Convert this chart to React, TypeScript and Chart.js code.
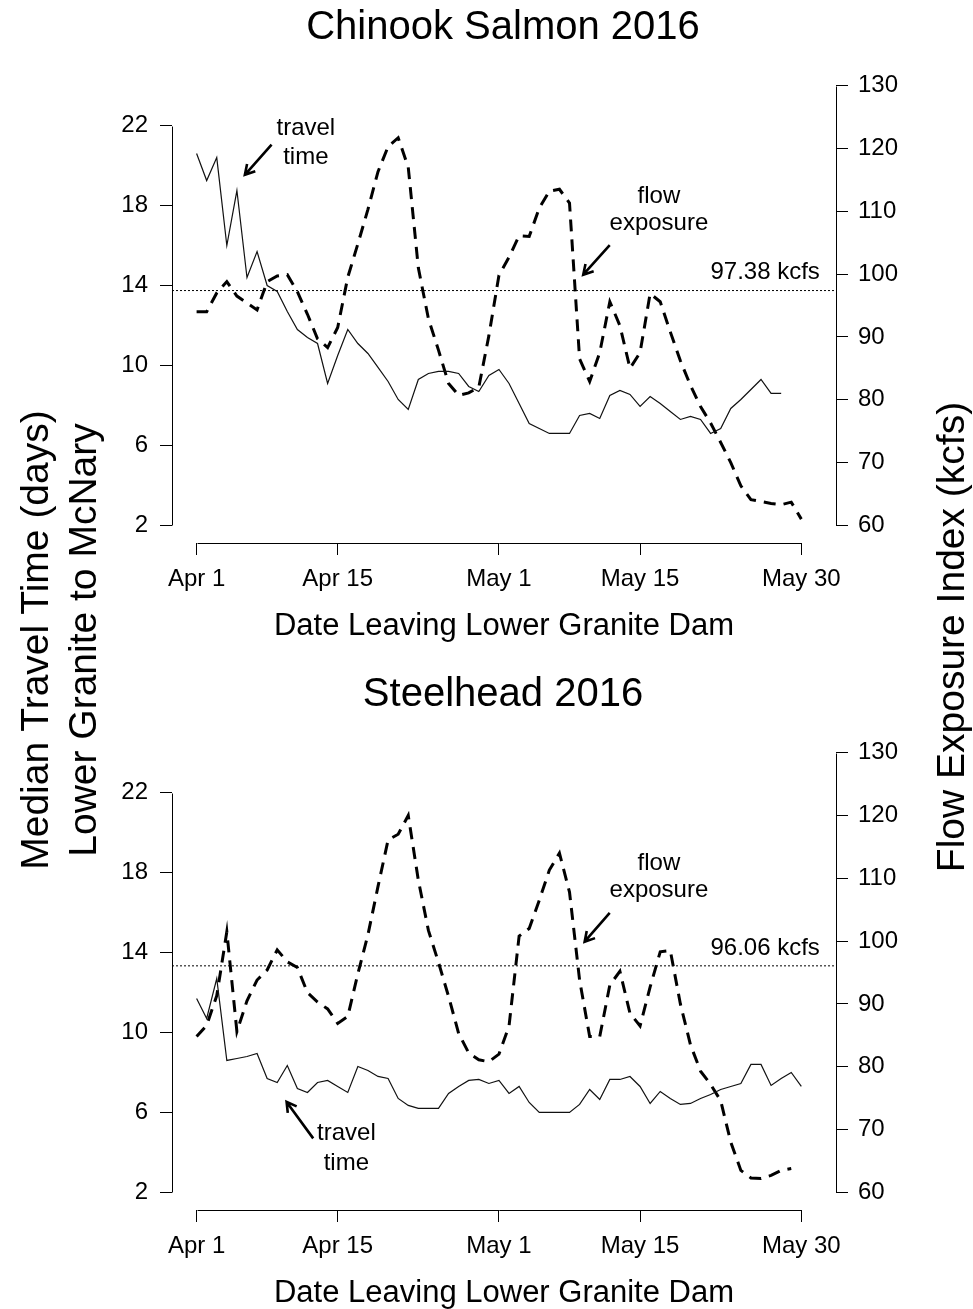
import React, { useEffect, useRef } from 'react';
import { Chart, registerables } from 'chart.js';

Chart.register(...registerables);

const FONT = '"Liberation Sans", Arial, Helvetica, sans-serif';

// ---- axis ticks ----
const xTickDays = [0, 14, 30, 44, 60];
const xTickLabels = ['Apr 1', 'Apr 15', 'May 1', 'May 15', 'May 30'];
const travelTicks = [2, 6, 10, 14, 18, 22];
const flowTicks = [60, 70, 80, 90, 100, 110, 120, 130];

// ---- Chinook Salmon 2016 (day 0 = Apr 1) ----
const chinookTravel = [
  20.6, 19.25, 20.4, 16.0, 18.75, 14.4, 15.7, 14.0, 13.7, 12.7,
  11.8, 11.4, 11.1, 9.1, 10.5, 11.8, 11.1, 10.6, 9.9, 9.2,
  8.3, 7.8, 9.3, 9.6, 9.7, 9.7, 9.6, 8.95, 8.7, 9.5,
  9.8, 9.1, 8.1, 7.1, 6.85, 6.6, 6.6, 6.6, 7.5, 7.6,
  7.35, 8.5, 8.75, 8.55, 7.95, 8.45, 8.1, 7.7, 7.3, 7.45,
  7.3, 6.6, 6.85, 7.85, 8.3, 8.8, 9.3, 8.6, 8.6,
];
const chinookFlow = [
  94.0, 94.0, 97.0, 98.8, 96.5, 95.4, 94.3, 98.8, 99.7, 99.9,
  97.2, 93.6, 89.7, 88.3, 91.5, 99.5, 104.8, 110.3, 116.3, 120.3,
  121.7, 117.0, 101.0, 92.9, 87.9, 82.6, 80.7, 81.1, 82.0, 90.2,
  99.8, 102.7, 106.1, 106.0, 110.5, 113.2, 113.5, 111.3, 86.5, 82.9,
  87.5, 95.6, 91.8, 85.0, 87.5, 96.9, 95.6, 90.8, 86.2, 82.3,
  78.9, 76.3, 73.2, 70.0, 66.3, 64.1, 63.8, 63.5, 63.3, 63.7, 61.0,
];
const chinookMeanFlow = 97.38;

// ---- Steelhead 2016 ----
const steelheadTravel = [
  11.7, 10.7, 12.7, 8.6, 8.7, 8.8, 8.95, 7.7, 7.5, 8.35,
  7.2, 7.0, 7.5, 7.6, 7.3, 7.0, 8.3, 8.1, 7.8, 7.7,
  6.7, 6.35, 6.2, 6.2, 6.2, 6.95, 7.3, 7.6, 7.65, 7.45,
  7.6, 6.95, 7.3, 6.5, 6.0, 6.0, 6.0, 6.0, 6.4, 7.15,
  6.65, 7.65, 7.65, 7.8, 7.3, 6.45, 7.05, 6.7, 6.4, 6.45,
  6.7, 6.9, 7.15, 7.3, 7.45, 8.4, 8.4, 7.35, 7.7, 8.0, 7.3,
];
const steelheadFlow = [
  84.8, 86.6, 91.3, 101.5, 85.6, 90.5, 93.8, 95.4, 98.6, 96.7,
  95.8, 91.8, 90.3, 89.2, 86.9, 88.0, 94.8, 101.0, 108.7, 116.1,
  117.0, 120.0, 109.7, 101.7, 96.6, 91.2, 85.3, 82.2, 81.1, 80.8,
  82.0, 86.5, 100.8, 102.0, 106.5, 111.3, 114.0, 107.8, 93.8, 84.8,
  84.8, 93.0, 95.2, 88.5, 86.5, 92.7, 98.3, 98.5, 90.0, 83.5,
  79.3, 77.2, 74.6, 68.0, 63.5, 62.3, 62.2, 62.7, 63.5, 63.8,
];
const steelheadMeanFlow = 96.06;

// ---- annotations (in day / kcfs units) ----
type Note =
  | { kind: 'text'; day: number; kcfs: number; text: string; align?: CanvasTextAlign }
  | { kind: 'arrow'; fromDay: number; fromKcfs: number; toDay: number; toKcfs: number };

const chinookNotes: Note[] = [
  { kind: 'text', day: 10.84, kcfs: 123.25, text: 'travel' },
  { kind: 'text', day: 10.84, kcfs: 118.5, text: 'time' },
  { kind: 'arrow', fromDay: 7.44, fromKcfs: 120.6, toDay: 4.79, toKcfs: 115.8 },
  { kind: 'text', day: 45.87, kcfs: 112.3, text: 'flow' },
  { kind: 'text', day: 45.87, kcfs: 108.1, text: 'exposure' },
  { kind: 'arrow', fromDay: 40.99, fromKcfs: 104.6, toDay: 38.36, toKcfs: 99.9 },
  { kind: 'text', day: 61.84, kcfs: 100.2, text: `${chinookMeanFlow.toFixed(2)} kcfs`, align: 'right' },
];

const steelheadNotes: Note[] = [
  { kind: 'text', day: 45.87, kcfs: 112.4, text: 'flow' },
  { kind: 'text', day: 45.87, kcfs: 108.1, text: 'exposure' },
  { kind: 'arrow', fromDay: 40.99, fromKcfs: 104.5, toDay: 38.5, toKcfs: 99.9 },
  { kind: 'text', day: 61.84, kcfs: 98.9, text: `${steelheadMeanFlow.toFixed(2)} kcfs`, align: 'right' },
  { kind: 'text', day: 14.86, kcfs: 69.45, text: 'travel' },
  { kind: 'text', day: 14.86, kcfs: 64.7, text: 'time' },
  { kind: 'arrow', fromDay: 11.57, fromKcfs: 68.6, toDay: 8.93, toKcfs: 74.4 },
];

// ---- layout constants ----
const W = 973;
const PLOT_LEFT = 172;
const PLOT_RIGHT = 836;
const PLOT_TOP = 68;
const PLOT_BOTTOM = 543;
const X_MIN = -2.44;
const X_MAX = 63.44;
const TRAVEL_MIN = 1.12;
const TRAVEL_MAX = 24.88;
const FLOW_MIN = 57.2;
const FLOW_MAX = 132.8;

const rStylePlugin = {
  id: 'rStyle',
  afterDraw(chart: any, _args: any, opts: any) {
    const { ctx, chartArea, scales } = chart;
    const sx = scales.x;
    const sl = scales.y;
    const sr = scales.y1;
    const al = (v: number) => Math.round(v) + 0.5;
    ctx.save();
    ctx.strokeStyle = '#000';
    ctx.lineWidth = 1;
    ctx.setLineDash([]);
    // R-style axis lines spanning first..last tick
    ctx.beginPath();
    ctx.moveTo(al(chartArea.left), al(sl.getPixelForValue(travelTicks[travelTicks.length - 1])));
    ctx.lineTo(al(chartArea.left), al(sl.getPixelForValue(travelTicks[0])));
    ctx.moveTo(al(chartArea.right), al(sr.getPixelForValue(flowTicks[flowTicks.length - 1])));
    ctx.lineTo(al(chartArea.right), al(sr.getPixelForValue(flowTicks[0])));
    ctx.moveTo(al(sx.getPixelForValue(xTickDays[0])), al(chartArea.bottom));
    ctx.lineTo(al(sx.getPixelForValue(xTickDays[xTickDays.length - 1])), al(chartArea.bottom));
    ctx.stroke();

    ctx.fillStyle = '#000';
    // panel title
    ctx.font = `40px ${FONT}`;
    ctx.textAlign = 'center';
    ctx.textBaseline = 'alphabetic';
    ctx.fillText(opts.title, 503, 39);
    // x axis title
    ctx.font = `31px ${FONT}`;
    ctx.fillText('Date Leaving Lower Granite Dam', (chartArea.left + chartArea.right) / 2, 635);

    // annotations
    const notes: Note[] = opts.notes || [];
    ctx.font = `24px ${FONT}`;
    ctx.textBaseline = 'middle';
    for (const n of notes) {
      if (n.kind === 'text') {
        ctx.textAlign = n.align || 'center';
        ctx.fillText(n.text, sx.getPixelForValue(n.day), sr.getPixelForValue(n.kcfs));
      } else {
        const x0 = sx.getPixelForValue(n.fromDay);
        const y0 = sr.getPixelForValue(n.fromKcfs);
        const x1 = sx.getPixelForValue(n.toDay);
        const y1 = sr.getPixelForValue(n.toKcfs);
        const ang = Math.atan2(y1 - y0, x1 - x0);
        const L = 11;
        const spread = Math.PI / 6;
        ctx.lineWidth = 2.6;
        ctx.lineCap = 'butt';
        ctx.beginPath();
        ctx.moveTo(x0, y0);
        ctx.lineTo(x1, y1);
        ctx.moveTo(x1 - L * Math.cos(ang - spread), y1 - L * Math.sin(ang - spread));
        ctx.lineTo(x1, y1);
        ctx.lineTo(x1 - L * Math.cos(ang + spread), y1 - L * Math.sin(ang + spread));
        ctx.stroke();
      }
    }
    ctx.restore();
  },
};

type PanelProps = {
  height: number;
  title: string;
  travel: number[];
  flow: number[];
  mean: number;
  notes: Note[];
};

function Panel({ height, title, travel, flow, mean, notes }: PanelProps) {
  const ref = useRef<HTMLCanvasElement | null>(null);
  useEffect(() => {
    if (!ref.current) return;
    const tickFont = { family: FONT, size: 24 };
    const grid = {
      display: true,
      drawOnChartArea: false,
      drawTicks: true,
      tickLength: 12,
      color: '#000',
      lineWidth: 1,
    };
    const chart = new Chart(ref.current, {
      type: 'line',
      data: {
        datasets: [
          {
            label: 'mean flow',
            data: [
              { x: X_MIN, y: mean },
              { x: X_MAX, y: mean },
            ],
            yAxisID: 'y1',
            borderColor: '#000',
            borderWidth: 1,
            borderDash: [2, 2],
            pointRadius: 0,
          },
          {
            label: 'travel time',
            data: travel.map((v, i) => ({ x: i, y: v })),
            yAxisID: 'y',
            borderColor: '#111',
            borderWidth: 1.2,
            pointRadius: 0,
            tension: 0,
          },
          {
            label: 'flow exposure',
            data: flow.map((v, i) => ({ x: i, y: v })),
            yAxisID: 'y1',
            borderColor: '#000',
            borderWidth: 3,
            borderDash: [12, 8],
            pointRadius: 0,
            tension: 0,
          },
        ],
      },
      options: {
        responsive: false,
        animation: false,
        devicePixelRatio: 1,
        events: [],
        layout: { autoPadding: false, padding: { top: PLOT_TOP, left: 0, right: 0, bottom: 0 } },
        plugins: {
          legend: { display: false },
          tooltip: { enabled: false },
          title: { display: false },
          rStyle: { title, notes },
        } as any,
        scales: {
          x: {
            type: 'linear',
            min: X_MIN,
            max: X_MAX,
            afterBuildTicks: (s: any) => {
              s.ticks = xTickDays.map((v) => ({ value: v }));
            },
            afterFit: (s: any) => {
              s.height = s.chart.height - PLOT_BOTTOM;
            },
            ticks: {
              callback: (v: any) => {
                const i = xTickDays.indexOf(Number(v));
                return i >= 0 ? xTickLabels[i] : '';
              },
              font: tickFont,
              color: '#000',
              padding: 10,
              maxRotation: 0,
              autoSkip: false,
            },
            grid,
            border: { display: false },
          },
          y: {
            type: 'linear',
            position: 'left',
            min: TRAVEL_MIN,
            max: TRAVEL_MAX,
            afterBuildTicks: (s: any) => {
              s.ticks = travelTicks.map((v) => ({ value: v }));
            },
            afterFit: (s: any) => {
              s.width = PLOT_LEFT;
            },
            ticks: { font: tickFont, color: '#000', padding: 12, autoSkip: false },
            grid,
            border: { display: false },
          },
          y1: {
            type: 'linear',
            position: 'right',
            min: FLOW_MIN,
            max: FLOW_MAX,
            afterBuildTicks: (s: any) => {
              s.ticks = flowTicks.map((v) => ({ value: v }));
            },
            afterFit: (s: any) => {
              s.width = W - PLOT_RIGHT;
            },
            ticks: { font: tickFont, color: '#000', padding: 10, autoSkip: false },
            grid,
            border: { display: false },
          },
        },
      } as any,
      plugins: [rStylePlugin],
    });
    return () => chart.destroy();
  }, [height, title, travel, flow, mean, notes]);
  return (
    <canvas
      ref={ref}
      width={W}
      height={height}
      style={{ display: 'block', width: W, height }}
    />
  );
}

export default function App() {
  const titleStyle: React.CSSProperties = {
    position: 'absolute',
    fontFamily: FONT,
    fontSize: 39,
    lineHeight: '48px',
    color: '#000',
    textAlign: 'center',
    whiteSpace: 'pre',
    transform: 'rotate(-90deg)',
    transformOrigin: 'center center',
    width: 600,
  };
  return (
    <div
      style={{
        position: 'absolute',
        left: 0,
        top: 0,
        width: W,
        height: 1309,
        overflow: 'hidden',
        background: '#fff',
      }}
    >
      <div style={{ position: 'absolute', left: 0, top: 0 }}>
        <Panel
          height={667}
          title="Chinook Salmon 2016"
          travel={chinookTravel}
          flow={chinookFlow}
          mean={chinookMeanFlow}
          notes={chinookNotes}
        />
      </div>
      <div style={{ position: 'absolute', left: 0, top: 667 }}>
        <Panel
          height={642}
          title="Steelhead 2016"
          travel={steelheadTravel}
          flow={steelheadFlow}
          mean={steelheadMeanFlow}
          notes={steelheadNotes}
        />
      </div>
      <div style={{ ...titleStyle, left: 59 - 300, top: 640 - 48, height: 96 }}>
        {'Median Travel Time (days)\nLower Granite to McNary'}
      </div>
      <div style={{ ...titleStyle, left: 951 - 300, top: 637 - 24, height: 48 }}>
        {'Flow Exposure Index (kcfs)'}
      </div>
    </div>
  );
}
